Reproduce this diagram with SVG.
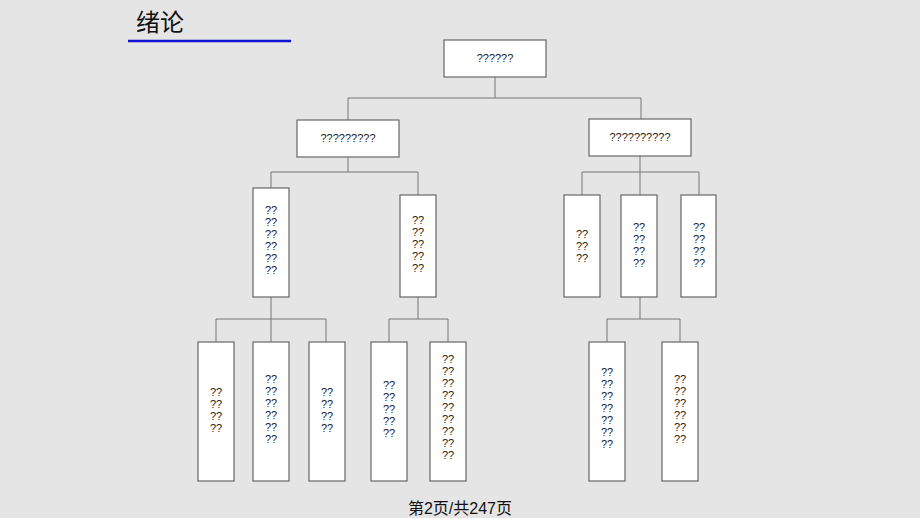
<svg xmlns="http://www.w3.org/2000/svg" width="920" height="518" viewBox="0 0 920 518">
<style>
.b{fill:#fff;stroke:#666;stroke-width:1.2}
.t{font-family:"Liberation Sans",Arial,sans-serif;font-size:11px;fill:#222;text-anchor:middle}
.c{stroke:#777;stroke-width:1;fill:none}
</style>
<rect width="920" height="518" fill="#e6e5e5"/>
<text x="136" y="31" font-family="'Noto Sans CJK SC',sans-serif" font-size="24" fill="#111">绪论</text>
<line x1="128" y1="41" x2="291" y2="41" stroke="#1010d0" stroke-width="2.5"/>
<g id="connectors" class="c">
<path d="M495 77V98M348 98H641M348 98V120M641 98V119"/>
<path d="M348 157V172M271 172H418M271 172V188M418 172V195"/>
<path d="M640 156V172M582 172H699M582 172V195M640 172V195M699 172V195"/>
<path d="M271 297V319M216 319H326M216 319V342M271 319V342M326 319V342"/>
<path d="M418 297V319M389 319H448M389 319V342M448 319V342"/>
<path d="M640 297V319M607 319H680M607 319V342M680 319V342"/>
</g>
<g id="n0"><rect class="b" x="444" y="40" width="102" height="37"/><text class="t" x="495" y="62">??????</text></g>
<g id="n1"><rect class="b" x="297" y="120" width="102" height="37"/><text class="t" x="348" y="142">?????????</text></g>
<g id="n2"><rect class="b" x="589" y="119" width="102" height="37"/><text class="t" x="640" y="141">??????????</text></g>
<g id="nA"><rect class="b" x="253" y="188" width="36" height="109"/><text class="t" x="271" y="214">??<tspan x="271" dy="12">??</tspan><tspan x="271" dy="12">??</tspan><tspan x="271" dy="12">??</tspan><tspan x="271" dy="12">??</tspan><tspan x="271" dy="12">??</tspan></text></g>
<g id="nB"><rect class="b" x="400" y="195" width="36" height="102"/><text class="t" x="418" y="224">??<tspan x="418" dy="12">??</tspan><tspan x="418" dy="12">??</tspan><tspan x="418" dy="12">??</tspan><tspan x="418" dy="12">??</tspan></text></g>
<g id="nC"><rect class="b" x="564" y="195" width="36" height="102"/><text class="t" x="582" y="238">??<tspan x="582" dy="12">??</tspan><tspan x="582" dy="12">??</tspan></text></g>
<g id="nD"><rect class="b" x="621" y="195" width="36" height="102"/><text class="t" x="639" y="231">??<tspan x="639" dy="12">??</tspan><tspan x="639" dy="12">??</tspan><tspan x="639" dy="12">??</tspan></text></g>
<g id="nE"><rect class="b" x="681" y="195" width="35" height="102"/><text class="t" x="699" y="231">??<tspan x="699" dy="12">??</tspan><tspan x="699" dy="12">??</tspan><tspan x="699" dy="12">??</tspan></text></g>
<g id="nA1"><rect class="b" x="198" y="342" width="36" height="139"/><text class="t" x="216" y="396">??<tspan x="216" dy="12">??</tspan><tspan x="216" dy="12">??</tspan><tspan x="216" dy="12">??</tspan></text></g>
<g id="nA2"><rect class="b" x="253" y="342" width="36" height="139"/><text class="t" x="271" y="383">??<tspan x="271" dy="12">??</tspan><tspan x="271" dy="12">??</tspan><tspan x="271" dy="12">??</tspan><tspan x="271" dy="12">??</tspan><tspan x="271" dy="12">??</tspan></text></g>
<g id="nA3"><rect class="b" x="309" y="342" width="36" height="139"/><text class="t" x="327" y="396">??<tspan x="327" dy="12">??</tspan><tspan x="327" dy="12">??</tspan><tspan x="327" dy="12">??</tspan></text></g>
<g id="nB1"><rect class="b" x="371" y="342" width="36" height="139"/><text class="t" x="389" y="389">??<tspan x="389" dy="12">??</tspan><tspan x="389" dy="12">??</tspan><tspan x="389" dy="12">??</tspan><tspan x="389" dy="12">??</tspan></text></g>
<g id="nB2"><rect class="b" x="430" y="342" width="36" height="139"/><text class="t" x="448" y="363">??<tspan x="448" dy="12">??</tspan><tspan x="448" dy="12">??</tspan><tspan x="448" dy="12">??</tspan><tspan x="448" dy="12">??</tspan><tspan x="448" dy="12">??</tspan><tspan x="448" dy="12">??</tspan><tspan x="448" dy="12">??</tspan><tspan x="448" dy="12">??</tspan></text></g>
<g id="nD1"><rect class="b" x="589" y="342" width="36" height="139"/><text class="t" x="607" y="376">??<tspan x="607" dy="12">??</tspan><tspan x="607" dy="12">??</tspan><tspan x="607" dy="12">??</tspan><tspan x="607" dy="12">??</tspan><tspan x="607" dy="12">??</tspan><tspan x="607" dy="12">??</tspan></text></g>
<g id="nD2"><rect class="b" x="662" y="342" width="36" height="139"/><text class="t" x="680" y="383">??<tspan x="680" dy="12">??</tspan><tspan x="680" dy="12">??</tspan><tspan x="680" dy="12">??</tspan><tspan x="680" dy="12">??</tspan><tspan x="680" dy="12">??</tspan></text></g>
<text x="460" y="514" text-anchor="middle" font-family="'Liberation Sans','Noto Sans CJK SC',sans-serif" font-size="16" fill="#111">第2页/共247页</text>
</svg>
